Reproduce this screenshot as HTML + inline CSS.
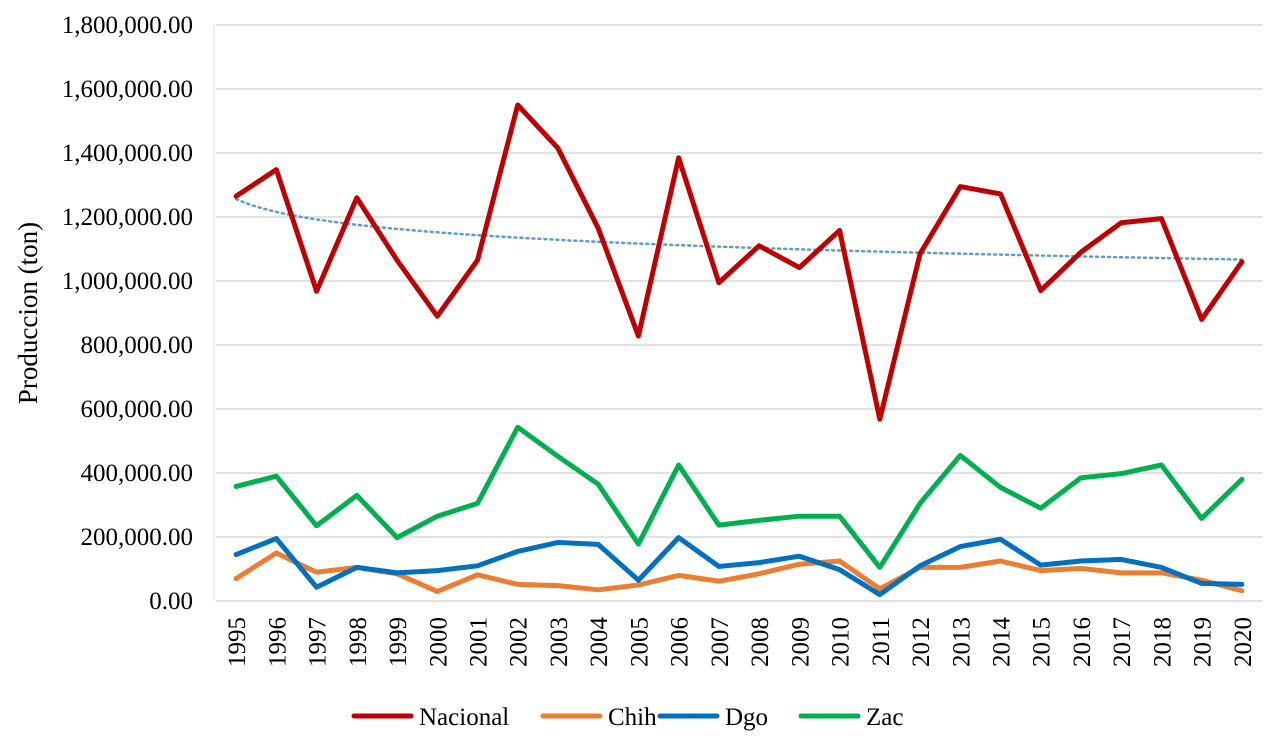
<!DOCTYPE html>
<html><head><meta charset="utf-8"><style>
body{margin:0;background:#fff;}
svg{display:block;font-family:"Liberation Serif",serif;}
</style></head><body>
<svg id="chart" width="1280" height="739"></svg>
<script>
const years=[1995,1996,1997,1998,1999,2000,2001,2002,2003,2004,2005,2006,2007,2008,2009,2010,2011,2012,2013,2014,2015,2016,2017,2018,2019,2020];
const nacional=[1265,1348,968,1260,1065,890,1065,1550,1415,1165,828,1385,995,1110,1042,1158,568,1085,1295,1272,970,1090,1182,1195,880,1060];
const chih=[70,150,90,105,85,30,82,52,48,35,50,80,62,85,115,125,38,105,105,125,95,102,88,88,65,32];
const dgo=[145,195,43,105,88,95,110,155,183,177,65,198,108,120,140,98,20,110,170,193,112,125,130,105,55,52];
const zac=[358,390,235,330,198,265,305,543,452,365,178,425,237,252,265,265,105,305,455,355,290,385,398,425,258,380];
const yTicks=[0,200,400,600,800,1000,1200,1400,1600,1800];
const yTickLabels=["0.00","200,000.00","400,000.00","600,000.00","800,000.00","1,000,000.00","1,200,000.00","1,400,000.00","1,600,000.00","1,800,000.00"];
const seriesNames=["Nacional","Chih","Dgo","Zac"];
const colors=["#C00000","#ED7D31","#0070C0","#00B050"];

const NS="http://www.w3.org/2000/svg";
const svg=document.getElementById('chart');
const x0=216,x1=1262,y0=601,y1=25;
const step=(x1-x0)/years.length;
const X=i=>x0+step*(i+0.5);
const Y=v=>y0-(v/1800)*(y0-y1);
function mk(t,a){const e=document.createElementNS(NS,t);for(const k in a)e.setAttribute(k,a[k]);svg.appendChild(e);return e;}

yTicks.forEach((v,i)=>{
  if(v>0){const g=mk('line',{x1:x0,x2:x1,y1:Y(v),y2:Y(v),stroke:'#d9d9d9','stroke-width':1.5});
  
  }
  const t=mk('text',{x:193,y:Y(v)+8,'text-anchor':'end','font-size':25,fill:'#000'});
  t.textContent=yTickLabels[i];
  
  
});
const vax=mk('line',{x1:214,x2:214,y1:y1,y2:y0,stroke:'#e6e6e6','stroke-width':1.5});


const ax=mk('line',{x1:x0,x2:x1,y1:y0,y2:y0,stroke:'#d9d9d9','stroke-width':1.5});


years.forEach((yr,i)=>{
  const t=mk('text',{transform:`translate(${X(i)+9},${617}) rotate(-90)`,'text-anchor':'end','font-size':25,fill:'#000'});
  t.textContent=yr;
  
  
});
const yl=mk('text',{transform:'translate(37,313) rotate(-90)','text-anchor':'middle','font-size':27,fill:'#000'});
yl.textContent='Produccion (ton)';



let n=years.length,sx=0,sy=0,sxx=0,sxy=0;
nacional.forEach((v,i)=>{const l=Math.log(i+1);sx+=l;sy+=v;sxx+=l*l;sxy+=l*v;});
const b=(n*sxy-sx*sy)/(n*sxx-sx*sx),a=(sy-b*sx)/n;
let td='';
for(let k=0;k<=100;k++){const t=1+k*(n-1)/100;const px=X(t-1);td+=(k?'L':'M')+px+','+Y(a+b*Math.log(t));}
const tr=mk('path',{d:td,fill:'none',stroke:'#5B9BD5','stroke-width':2.5,'stroke-dasharray':'2 4','stroke-linecap':'round'});



const all=[nacional,chih,dgo,zac];
const order=[1,2,3,0];
order.forEach(s=>{
  const d=all[s].map((v,i)=>(i?'L':'M')+X(i)+','+Y(v)).join('');
  const p=mk('path',{d:d,fill:'none',stroke:colors[s],'stroke-width':5,'stroke-linejoin':'round','stroke-linecap':'round'});
  
  
});
const lx=[354,543,660,801];
seriesNames.forEach((nm,s)=>{
  const l=mk('line',{x1:lx[s],x2:lx[s]+57,y1:716,y2:716,stroke:colors[s],'stroke-width':5,'stroke-linecap':'round'});
  
  
  const t=mk('text',{x:lx[s]+65,y:725,'font-size':25,fill:'#000'});
  t.textContent=nm;
  
  
});
</script>
</body></html>
